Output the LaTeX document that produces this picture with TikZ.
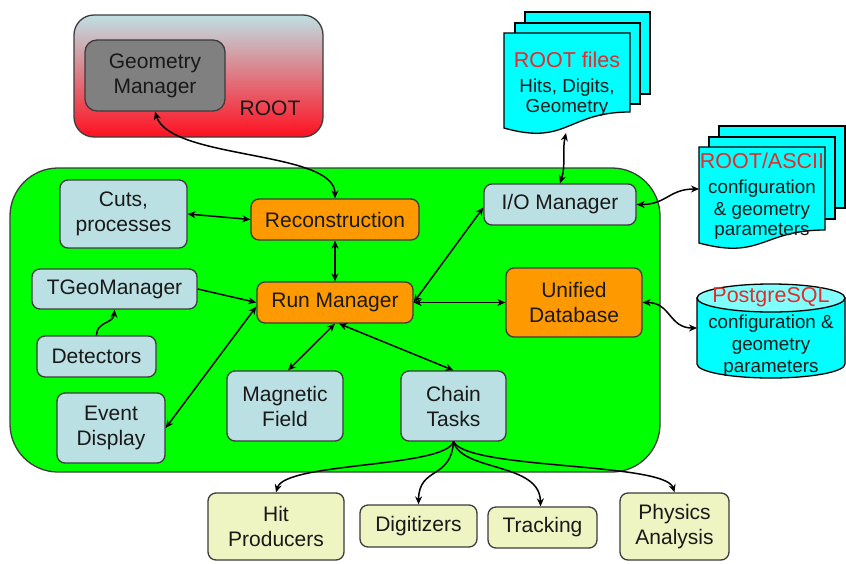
\documentclass[tikz,border=0pt]{standalone}
\usepackage{fontspec}
\setmainfont{Liberation Sans}
\usetikzlibrary{arrows.meta,calc}

\definecolor{paleblue}{RGB}{187,224,227}
\definecolor{amber}{RGB}{255,153,0}
\definecolor{coregreen}{RGB}{0,255,0}
\definecolor{paleyellow}{RGB}{239,245,194}
\definecolor{gmgray}{RGB}{128,128,128}
\definecolor{docfill}{RGB}{0,255,255}
\definecolor{doctop}{RGB}{128,255,255}
\definecolor{rootred}{RGB}{229,43,43}
\definecolor{edgegray}{RGB}{60,60,60}
\definecolor{textblack}{RGB}{25,25,25}
\definecolor{rootblue}{RGB}{190,224,228}
\definecolor{rootpink}{RGB}{228,176,184}
\definecolor{rootbottom}{RGB}{255,16,32}

\begin{document}
\begin{tikzpicture}[x=1pt,y=-1pt,
  box/.style={draw=edgegray, line width=1.3pt, rounded corners=8pt, inner sep=0pt,
    align=center, text=textblack, font=\fontsize{21}{25}\selectfont},
  bluebox/.style={box, fill=paleblue},
  orangebox/.style={box, fill=amber},
  yellowbox/.style={box, fill=paleyellow},
  link/.style={line width=1.5pt, draw=black, {Stealth[length=8pt,width=7pt]}-{Stealth[length=8pt,width=7pt]}},
  feed/.style={line width=1.5pt, draw=black, -{Stealth[length=8pt,width=7pt]}},
  docpage/.style={draw=black, line width=1.3pt, fill=docfill},
  doctitle/.style={anchor=base, text=rootred, font=\fontsize{21.5}{24}\selectfont, inner sep=0pt},
  docline/.style={anchor=base, text=textblack, font=\fontsize{18.8}{22}\selectfont, inner sep=0pt},
]
\fill[white] (0,0) rectangle (846,563);
\useasboundingbox (0,0) rectangle (846,563);

% ROOT framework block with the geometry manager
\node[draw=edgegray, line width=1.3pt, rounded corners=20pt, minimum width=249pt, minimum height=122pt,
      top color=rootblue, middle color=rootpink, bottom color=rootbottom] (rootbox) at (198.5,76) {};
\node[box, fill=gmgray, rounded corners=12pt, minimum width=140pt, minimum height=71pt] (gm) at (155,75.5) {Geometry\\Manager};
\node[text=textblack, font=\fontsize{21}{25}\selectfont, inner sep=0pt] (rootlabel) at (270,108) {ROOT};

% framework core
\node[draw=edgegray, line width=1.3pt, fill=coregreen, rounded corners=48pt, minimum width=650pt, minimum height=304pt] (core) at (335,320) {};

\node[bluebox, minimum width=127pt, minimum height=68pt] (cuts) at (123.5,214) {Cuts,\\processes};
\node[orangebox, minimum width=168pt, minimum height=41pt] (recon) at (335,219.5) {Reconstruction};
\node[bluebox, minimum width=152pt, minimum height=41pt] (io) at (560,204.5) {I/O Manager};
\node[orangebox, minimum width=136pt, minimum height=69pt] (udb) at (574,302.5) {Unified\\Database};
\node[orangebox, minimum width=156pt, minimum height=41pt] (run) at (335,302.5) {Run Manager};
\node[bluebox, minimum width=116pt, minimum height=70pt] (mag) at (285,406) {Magnetic\\Field};
\node[bluebox, minimum width=105pt, minimum height=70pt] (chain) at (453.5,406) {Chain\\Tasks};
\node[bluebox, minimum width=165pt, minimum height=40pt] (tgeo) at (114.5,289) {TGeoManager};
\node[bluebox, minimum width=119pt, minimum height=41pt] (det) at (96.5,356.5) {Detectors};
\node[bluebox, minimum width=108pt, minimum height=70pt] (evd) at (111,428) {Event\\Display};

% tasks run by the chain
\node[yellowbox, minimum width=136pt, minimum height=67pt] (hit) at (276,526.5) {Hit\\Producers};
\node[yellowbox, minimum width=117pt, minimum height=42pt] (dig) at (418.5,526) {Digitizers};
\node[yellowbox, minimum width=109pt, minimum height=41pt] (trk) at (542.5,527.5) {Tracking};
\node[yellowbox, minimum width=109pt, minimum height=67pt] (phy) at (674.5,526.5) {Physics\\Analysis};

% stack of ROOT files
\draw[docpage] (525,12) rectangle (650,94);
\draw[docpage] (515,23) rectangle (640,104);
\draw[docpage] (504,33) -- (630,33) -- (630,112) .. controls (567,112) and (567,146) .. (504,128) -- cycle;
\node[doctitle] (rf1) at (567,67.5) {ROOT files};
\node[docline] (rf2) at (567,92) {Hits, Digits,};
\node[docline] (rf3) at (567,112.5) {Geometry};
\coordinate (rfile) at (566,133);

% stack of ROOT/ASCII parameter files
\draw[docpage] (719,126) rectangle (845,208);
\draw[docpage] (709,137) rectangle (835,219);
\draw[docpage] (699,147) -- (825,147) -- (825,230) .. controls (762,230) and (762,260) .. (699,243) -- cycle;
\node[doctitle] (as1) at (762,168.5) {ROOT/ASCII};
\node[docline] (as2) at (762,193) {configuration};
\node[docline] (as3) at (762,215) {\& geometry};
\node[docline] (as4) at (762,235.5) {parameters};
\coordinate (ascii) at (699,189);

% PostgreSQL database
\path[draw=black, line width=1.3pt, fill=docfill] (697,298) -- (697,364)
  arc[start angle=180, end angle=360, x radius=74pt, y radius=14pt] -- (845,298) -- cycle;
\draw[line width=1.3pt, fill=doctop] (771,298) ellipse[x radius=74pt, y radius=14pt];
\node[doctitle] (pg1) at (771,302) {PostgreSQL};
\node[docline] (pg2) at (771,328) {configuration \&};
\node[docline] (pg3) at (771,350) {geometry};
\node[docline] (pg4) at (771,372) {parameters};
\coordinate (pgsql) at (697,328);

% connectors
\draw[link] (gm.south) .. controls (170,160) and (335,150) .. (recon.north);
\draw[link] (cuts.east) -- (recon.west);
\draw[link] (recon.south) -- (run.north);
\draw[feed] (tgeo.east) -- (run.west);
\draw[feed] (det.north) .. controls +(0,-14) and +(-1,14) .. (tgeo.south);
\draw[link] (evd.east) -- ($(run.west)+(0,4)$);
\draw[link] (run.south) -- ($(mag.north)+(3,0)$);
\draw[link] ($(run.south)+(4,0)$) -- (chain.north);
\draw[link] (run.east) -- ($(io.west)+(0,3)$);
\draw[link] (run.east) -- (udb.west);
\draw[link] (io.north) .. controls +(6,-18) and +(-4,18) .. (rfile);
\draw[link] (io.east) .. controls +(30,0) and +(-30,0) .. (ascii);
\draw[link] (udb.east) .. controls +(28,0) and +(-28,0) .. (pgsql);

\draw[feed] (chain.south) .. controls (445,468) and (285,462) .. (hit.north);
\draw[feed] (chain.south) .. controls (451,480) and (419,466) .. (dig.north);
\draw[feed] (chain.south) .. controls (462,472) and (540,462) .. ($(trk.north)+(-2,0)$);
\draw[feed] (chain.south) .. controls (468,470) and (665,462) .. (phy.north);
\end{tikzpicture}
\end{document}
